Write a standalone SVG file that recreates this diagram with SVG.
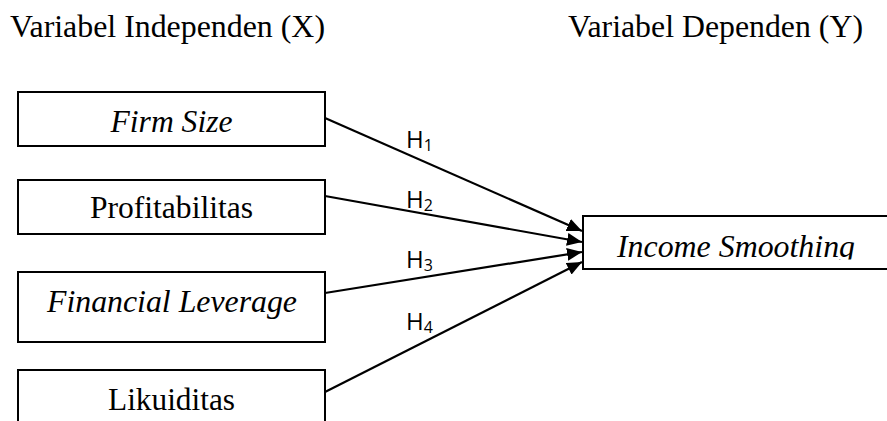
<svg xmlns="http://www.w3.org/2000/svg" width="887" height="421" viewBox="0 0 887 421">
<style>
.box{fill:#fff;stroke:#000;stroke-width:2}
.t{font-family:"Liberation Serif","Times New Roman",serif;font-size:31.5px;fill:#000}
.it{font-style:italic}
.mid{text-anchor:middle}
.con{stroke:#000;stroke-width:2.2;fill:none;marker-end:url(#arr)}
.h{font-family:"Open Sans","Liberation Sans",sans-serif;font-size:24px;fill:#000}
.sub{font-size:16px}
</style>
<defs>
<marker id="arr" markerUnits="userSpaceOnUse" markerWidth="15" markerHeight="13" refX="15" refY="6.5" orient="auto">
<path d="M0,0 L15,6.5 L0,13 Z" fill="#000"/>
</marker>
<clipPath id="clipY"><rect x="580" y="210" width="320" height="49.5"/></clipPath>
</defs>
<g id="titles">
<text class="t" x="10" y="37" textLength="315" lengthAdjust="spacingAndGlyphs">Variabel Independen (X)</text>
<text class="t" x="568" y="37" textLength="295" lengthAdjust="spacingAndGlyphs">Variabel Dependen (Y)</text>
</g>
<g id="connectors">
<line class="con" x1="325" y1="118" x2="582" y2="231"/>
<line class="con" x1="325" y1="196" x2="582" y2="242"/>
<line class="con" x1="325" y1="293" x2="582" y2="252"/>
<line class="con" x1="325" y1="392" x2="582" y2="262"/>
<text class="h" x="406" y="148">H<tspan class="sub" dy="3">1</tspan></text>
<text class="h" x="406" y="208">H<tspan class="sub" dy="3">2</tspan></text>
<text class="h" x="406" y="268">H<tspan class="sub" dy="3">3</tspan></text>
<text class="h" x="406" y="330">H<tspan class="sub" dy="3">4</tspan></text>
</g>
<g id="firm-size">
<rect class="box" x="18" y="92" width="307" height="54"/>
<text class="t it mid" x="171.5" y="132" textLength="122" lengthAdjust="spacingAndGlyphs">Firm Size</text>
</g>
<g id="profitabilitas">
<rect class="box" x="18" y="180" width="307" height="54"/>
<text class="t mid" x="171.5" y="218" textLength="163" lengthAdjust="spacingAndGlyphs">Profitabilitas</text>
</g>
<g id="financial-leverage">
<rect class="box" x="18" y="272" width="307" height="70"/>
<text class="t it mid" x="172" y="312" textLength="250" lengthAdjust="spacingAndGlyphs">Financial Leverage</text>
</g>
<g id="likuiditas">
<rect class="box" x="18" y="370" width="307" height="70"/>
<text class="t mid" x="171.5" y="410" textLength="127" lengthAdjust="spacingAndGlyphs">Likuiditas</text>
</g>
<g id="income-smoothing">
<rect class="box" x="583" y="216" width="310" height="53"/>
<text class="t it mid" x="736" y="257" clip-path="url(#clipY)" textLength="238" lengthAdjust="spacingAndGlyphs">Income Smoothing</text>
</g>
</svg>
